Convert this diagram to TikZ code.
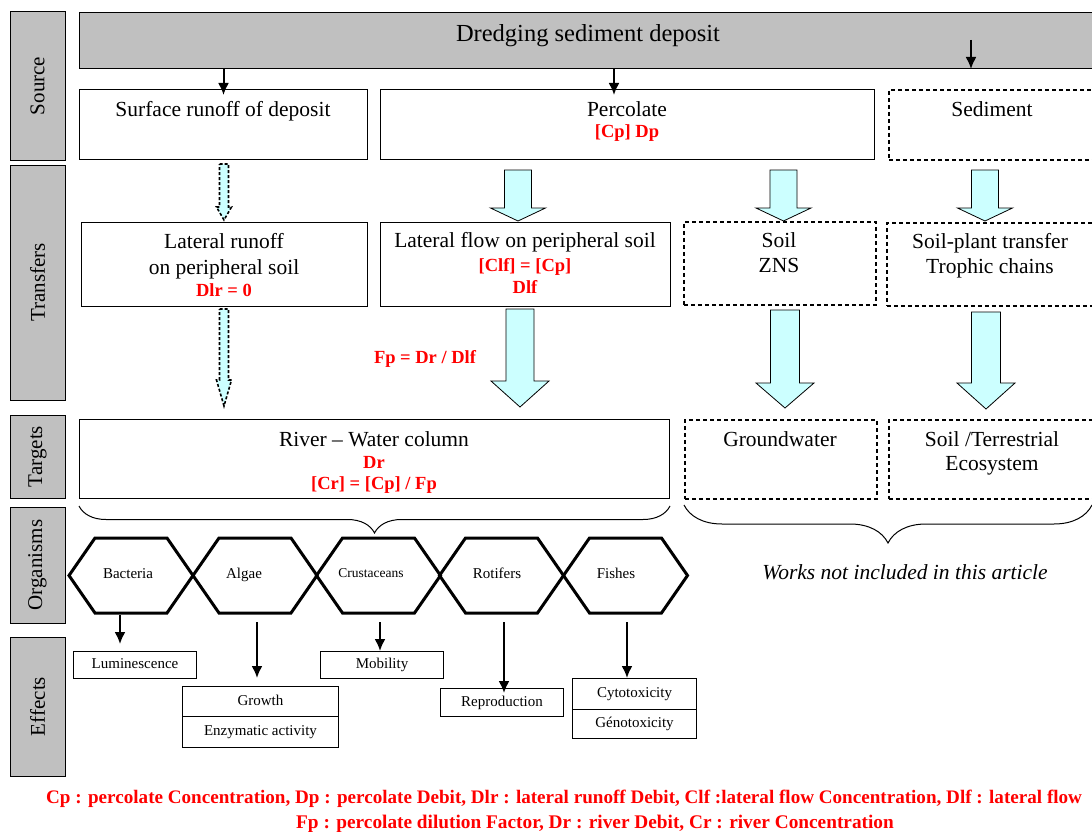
\documentclass[tikz,border=0pt]{standalone}
\usepackage{fontspec}
\setmainfont{Liberation Serif}
\usetikzlibrary{arrows.meta,decorations.pathreplacing}

\definecolor{bargray}{HTML}{C0C0C0}
\definecolor{flowcyan}{HTML}{CCFFFF}

\tikzset{
    box/.style={draw, line width=1pt, inner sep=0pt, anchor=north west},
    dbox/.style={box, line width=1.6pt, dash pattern=on 4pt off 3pt},
    bar/.style={box, fill=bargray, anchor=center, rotate=90, font=\fontsize{21}{21}\selectfont},
    txt/.style={anchor=base, inner sep=0pt, font=\fontsize{21.5}{26}\selectfont},
    redtxt/.style={anchor=base, inner sep=0pt, text=red, font=\fontsize{18.5}{22}\selectfont\bfseries},
    org/.style={anchor=base, inner sep=0pt, font=\fontsize{15}{15}\selectfont},
    eff/.style={box, font=\fontsize{15}{15}\selectfont, text height=10pt, text depth=3pt},
    arr/.style={line width=2pt, -{Latex[length=12pt,width=11pt]}},
    fat/.style={draw, line width=0.8pt, fill=flowcyan, line join=miter},
    thinflow/.style={line width=1.6pt, dash pattern=on 3pt off 2pt},
    hexa/.style={line width=3pt, line join=miter}
}

% x, top, start of head, tip, half shaft, half head
\newcommand{\flowarrow}[7][]{
    \draw[fat, #1] (#2-#6,#3) -- (#2+#6,#3) -- (#2+#6,#4) -- (#2+#7,#4) -- (#2,#5)
        -- (#2-#7,#4) -- (#2-#6,#4) -- cycle;
}

\begin{document}
\begin{tikzpicture}[x=1pt, y=-1pt]
        \useasboundingbox (0,0) rectangle (1092,832);

        \node [bar, minimum width=148pt, minimum height=55pt] (source) at (37.5,86) {Source};
        \node [bar, minimum width=235pt, minimum height=55pt] (transfers) at (37.5,282.5) {Transfers};
        \node [bar, minimum width=83pt, minimum height=55pt] (targets) at (37.5,456.5) {Targets};
        \node [bar, minimum width=116pt, minimum height=55pt] (organisms) at (37.5,565) {Organisms};
        \node [bar, minimum width=139pt, minimum height=55pt] (effects) at (37.5,706.5) {Effects};

        \node [box, fill=bargray, minimum width=1030pt, minimum height=56pt] (deposit) at (79,12) {};
        \node [txt, font=\fontsize{24.5}{24.5}\selectfont] (deposittxt) at (588,42) {Dredging sediment deposit};

        \node [box, minimum width=288pt, minimum height=70pt] (surf) at (79,89) {};
        \node [txt] (surftxt) at (223,117) {Surface runoff of deposit};
        \node [box, minimum width=494pt, minimum height=70pt] (perc) at (380,89) {};
        \node [txt] (perctxt) at (627,117) {Percolate};
        \node [redtxt] (perceq) at (627,138) {[Cp] Dp};
        \node [dbox, minimum width=220pt, minimum height=70pt] (sed) at (888,89) {};
        \node [txt] (sedtxt) at (992,117) {Sediment};

        \coordinate (percin) at (614,95);
        \coordinate (sedin) at (971,40);
        \draw [arr] (deposit.south -| surf.north) -- ([yshift=-6pt]surf.north);
        \draw [arr] (deposit.south -| percin) -- (percin);
        \draw [arr] (sedin) -- (deposit.south -| sedin);

        \node [box, minimum width=286pt, minimum height=84pt] (latrun) at (81,222) {};
        \node [txt] (latruna) at (224,248) {Lateral runoff};
        \node [txt] (latrunb) at (224,274) {on peripheral soil};
        \node [redtxt] (latrunc) at (224,296) {Dlr = 0};
        \node [box, minimum width=290pt, minimum height=84pt] (latflow) at (380,222) {};
        \node [txt] (latflowa) at (525,247) {Lateral flow on peripheral soil};
        \node [redtxt] (latflowb) at (525,271) {[Clf] = [Cp]};
        \node [redtxt] (latflowc) at (525,293) {Dlf};
        \node [dbox, minimum width=192pt, minimum height=83pt] (zns) at (683,221) {};
        \node [txt] (znsa) at (779,247) {Soil};
        \node [txt] (znsb) at (779,272) {ZNS};
        \node [dbox, minimum width=222pt, minimum height=83pt] (plant) at (886,222) {};
        \node [txt] (planta) at (990,248) {Soil-plant transfer};
        \node [txt] (plantb) at (990,273) {Trophic chains};
        \node [redtxt] (dilution) at (425,363) {Fp = Dr / Dlf};

        \flowarrow[thinflow]{224}{164}{207}{220}{4.5}{7.5}
        \flowarrow[thinflow]{224}{309}{380}{406}{4.5}{7.5}
        \flowarrow{518}{170}{208}{221}{13.5}{27.5}
        \flowarrow{783.5}{170}{208}{221}{13.5}{27.5}
        \flowarrow{985}{170}{208}{221}{13.5}{27.5}
        \flowarrow{520}{309}{381}{407}{14}{29}
        \flowarrow{785}{310}{383}{408}{14.5}{29}
        \flowarrow{986}{312}{383}{409}{14.5}{29}

        \node [box, minimum width=590pt, minimum height=79pt] (river) at (79,419) {};
        \node [txt] (rivera) at (374,446) {River -- Water column};
        \node [redtxt] (riverb) at (374,468) {Dr};
        \node [redtxt] (riverc) at (374,489) {[Cr] = [Cp] / Fp};
        \node [dbox, minimum width=192pt, minimum height=79pt] (ground) at (684,419) {};
        \node [txt] (grounda) at (780,446) {Groundwater};
        \node [dbox, minimum width=220pt, minimum height=79pt] (terr) at (888,419) {};
        \node [txt] (terra) at (992,446) {Soil /Terrestrial};
        \node [txt] (terrb) at (992,470) {Ecosystem};

        \coordinate (braceend) at (1092,505);
        \draw [line width=1pt, decorate, decoration={brace, amplitude=27pt}]
            ([yshift=-7pt]river.south east) -- ([yshift=-7pt]river.south west);
        \draw [line width=1pt, decorate, decoration={brace, amplitude=38pt}]
            (braceend) -- (braceend -| ground.west);
        \node [txt, font=\fontsize{21.5}{26}\selectfont\itshape] (notincl) at (905,579) {Works not included in this article};

        \foreach \c in {131,255,378.5,501.5,625.5}{
            \draw [hexa] (\c-62,575.5) -- (\c-36,538) -- (\c+36,538) -- (\c+62,575.5)
                -- (\c+36,613) -- (\c-36,613) -- cycle;
        }
        \node [org] (bact) at (128,578) {Bacteria};
        \node [org] (algae) at (244,578) {Algae};
        \node [org, font=\fontsize{13.5}{13.5}\selectfont] (crust) at (371,577) {Crustaceans};
        \node [org] (rotif) at (497,578) {Rotifers};
        \node [org] (fish) at (616,578) {Fishes};

        \node [eff, minimum width=123pt, minimum height=27pt] (lumi) at (73,651) {Luminescence};
        \node [eff, minimum width=156pt, minimum height=30pt] (growth) at (182,686) {Growth};
        \node [eff, minimum width=156pt, minimum height=31pt] (enzyme) at (182,716) {Enzymatic activity};
        \node [eff, minimum width=123pt, minimum height=27pt] (mobil) at (320,651) {Mobility};
        \node [eff, minimum width=123pt, minimum height=28pt] (repro) at (440,688) {Reproduction};
        \node [eff, minimum width=124pt, minimum height=31pt] (cyto) at (572,678) {Cytotoxicity};
        \node [eff, minimum width=124pt, minimum height=29pt] (geno) at (572,709) {G\'enotoxicity};

        \coordinate (fromb) at (120,615);
        \coordinate (froma) at (257,622);
        \coordinate (fromc) at (380,622);
        \coordinate (fromr) at (504,622);
        \coordinate (fromf) at (627,622);
        \draw [arr] (fromb) -- ([yshift=7pt]fromb |- lumi.north);
        \draw [arr] (froma) -- ([yshift=8pt]froma |- growth.north);
        \draw [arr] (fromc) -- (fromc |- mobil.north);
        \draw [arr] (fromr) -- ([yshift=-5pt]fromr |- repro.north);
        \draw [arr] (fromf) -- (fromf |- cyto.north);

        \node [redtxt, anchor=base west, font=\fontsize{19.1}{19.1}\selectfont\bfseries] (legenda) at (46,803)
            {Cp : percolate Concentration, Dp : percolate Debit, Dlr : lateral runoff Debit, Clf :lateral flow Concentration, Dlf : lateral flow};
        \node [redtxt, font=\fontsize{19.3}{19.3}\selectfont\bfseries] (legendb) at (595,828)
            {Fp : percolate dilution Factor, Dr : river Debit, Cr : river Concentration};
\end{tikzpicture}
\end{document}
